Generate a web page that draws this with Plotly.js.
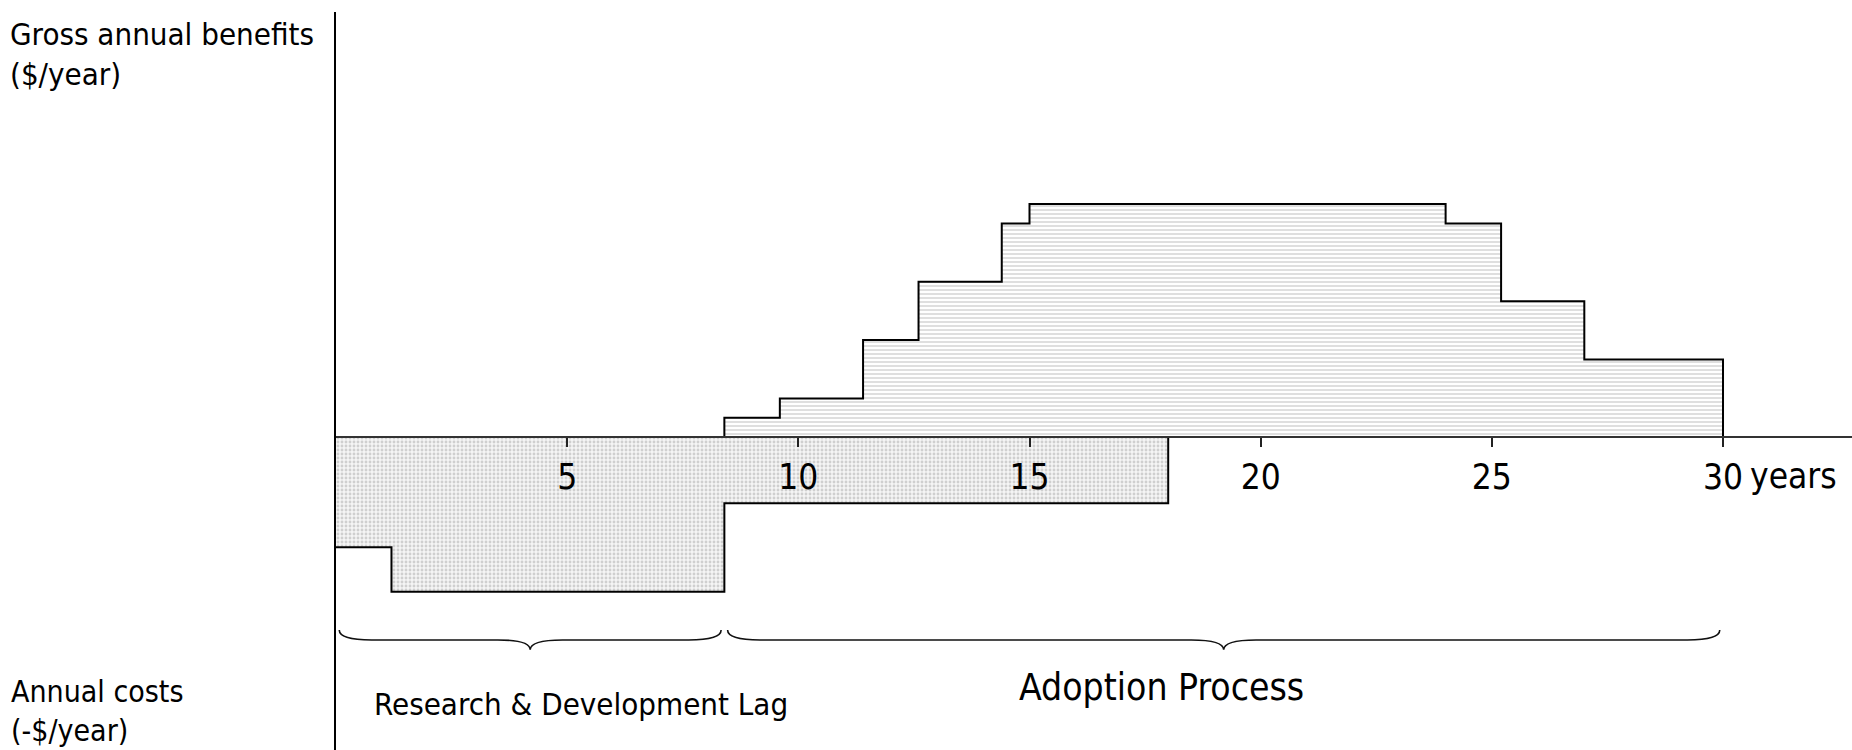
<!DOCTYPE html>
<html><head><meta charset="utf-8">
<script src="https://cdn.plot.ly/plotly-3.0.1.min.js"></script>
<style>html,body{margin:0;padding:0;background:#fff;} #chart{width:1852px;height:750px;}</style>
</head><body><div id="chart"></div>
<script>
// ---- Data (x in years, y in $ units) ----
const costEdges = [0, 1.2, 8.4, 18];
const costValues = [-5.66, -7.94, -3.39];
const benefitEdges = [8.4, 9.6, 11.4, 12.6, 14.4, 15, 24, 25.2, 27, 30];
const benefitValues = [1, 2, 5, 8, 11, 12, 11, 7, 4];
const tickValues = [5, 10, 15, 20, 25, 30];
const tickLabels = ['5', '10', '15', '20', '25', '30'];
const phaseNames = ['Research & Development Lag', 'Adoption Process'];
const benefitLabel = 'Gross annual benefits<br>($/year)';
const costLabel = 'Annual costs<br>(-$/year)';
const xUnitLabel = 'years';

// ---- layout constants ----
const W = 1852, H = 750;
const M = {l: 336, r: 0, t: 12, b: 0};
const X_RANGE = [0, 32.79];
const Y_RANGE = [-16.08, 21.87];
const FONT = 'DejaVu Sans Condensed, DejaVu Sans, sans-serif';
const PW = W - M.l - M.r, PH = H - M.t - M.b;
const px = v => (v - M.l) / PW;          // page px -> paper x
const py = v => (H - M.b - v) / PH;      // page px -> paper y

function stepXY(edges, values, closeStart) {
  const x = [], y = [];
  if (closeStart) { x.push(edges[0]); y.push(0); }
  for (let i = 0; i < values.length; i++) { x.push(edges[i]); y.push(values[i]); }
  const last = edges[edges.length - 1];
  x.push(last); y.push(values[values.length - 1]);
  x.push(last); y.push(0);
  return {x, y};
}

const cost = stepXY(costEdges, costValues, false);
const ben = stepXY(benefitEdges, benefitValues, true);

const traces = [
  {
    type: 'scatter', mode: 'lines', x: cost.x, y: cost.y,
    line: {shape: 'hv', color: '#000', width: 2},
    fill: 'tozeroy', fillcolor: '#f0f0f0',
    fillpattern: {shape: '.', fgcolor: '#cfcfcf', bgcolor: '#f5f5f5', size: 4, solidity: 0.4},
    hoverinfo: 'skip', showlegend: false
  },
  {
    type: 'scatter', mode: 'lines', x: ben.x, y: ben.y,
    line: {shape: 'hv', color: '#000', width: 2},
    fill: 'tozeroy', fillcolor: '#f4f4f4',
    fillpattern: {shape: '-', fgcolor: '#dcdcdc', bgcolor: '#ffffff', size: 4, solidity: 0.45},
    hoverinfo: 'skip', showlegend: false
  }
];

// braces under the two phases, derived from the data edges
const BR = {top: -9.91, mid: -10.42, tip: -10.93, d: 0.7, gap: 0.07};
function bracePath(xa, xb) {
  const xm = (xa + xb) / 2, d = BR.d;
  return `M ${xa},${BR.top} Q ${xa},${BR.mid} ${xa + d},${BR.mid} ` +
         `L ${xm - d},${BR.mid} Q ${xm},${BR.mid} ${xm},${BR.tip} ` +
         `Q ${xm},${BR.mid} ${xm + d},${BR.mid} ` +
         `L ${xb - d},${BR.mid} Q ${xb},${BR.mid} ${xb},${BR.top}`;
}
const rdStart = costEdges[0], rdEnd = benefitEdges[0], adEnd = benefitEdges[benefitEdges.length - 1];
const shapes = [
  {type: 'path', xref: 'x', yref: 'y', path: bracePath(rdStart + BR.gap, rdEnd - BR.gap),
   line: {color: '#111', width: 1.6}},
  {type: 'path', xref: 'x', yref: 'y', path: bracePath(rdEnd + BR.gap, adEnd - BR.gap),
   line: {color: '#111', width: 1.6}}
];

const annotations = [
  {text: benefitLabel, xref: 'paper', yref: 'paper', x: px(8), y: py(14), xanchor: 'left', yanchor: 'top',
   align: 'left', showarrow: false, font: {family: FONT, size: 31, color: '#000'}},
  {text: costLabel, xref: 'paper', yref: 'paper', x: px(9), y: py(711), xanchor: 'left', yanchor: 'middle',
   align: 'left', showarrow: false, font: {family: FONT, size: 30, color: '#000'}},
  {text: phaseNames[0], xref: 'paper', yref: 'paper', x: px(372), y: py(704), xanchor: 'left', yanchor: 'middle',
   showarrow: false, font: {family: FONT, size: 31, color: '#000'}},
  {text: phaseNames[1], xref: 'paper', yref: 'paper', x: px(1161), y: py(687), xanchor: 'center', yanchor: 'middle',
   showarrow: false, font: {family: FONT, size: 37, color: '#000'}},
  {text: xUnitLabel, xref: 'paper', yref: 'paper', x: px(1748), y: py(476), xanchor: 'left', yanchor: 'middle',
   showarrow: false, font: {family: FONT, size: 35, color: '#000'}}
];

const layout = {
  width: W, height: H, margin: M,
  paper_bgcolor: '#fff', plot_bgcolor: 'rgba(0,0,0,0)',
  font: {family: FONT, color: '#000'},
  showlegend: false,
  xaxis: {
    range: X_RANGE, anchor: 'free', position: (0 - Y_RANGE[0]) / (Y_RANGE[1] - Y_RANGE[0]),
    showline: true, linecolor: '#333', linewidth: 2,
    ticks: 'outside', ticklen: 9, tickwidth: 2, tickcolor: '#222',
    tickvals: tickValues, ticktext: tickLabels, tickfont: {family: FONT, size: 35, color: '#000'},
    showgrid: false, zeroline: false, fixedrange: true
  },
  yaxis: {
    range: Y_RANGE, showline: true, linecolor: '#000', linewidth: 2,
    showticklabels: false, ticks: '', showgrid: false, zeroline: false, fixedrange: true
  },
  shapes: shapes,
  annotations: annotations
};

Plotly.newPlot('chart', traces, layout, {staticPlot: true, displayModeBar: false});
</script>
</body></html>
